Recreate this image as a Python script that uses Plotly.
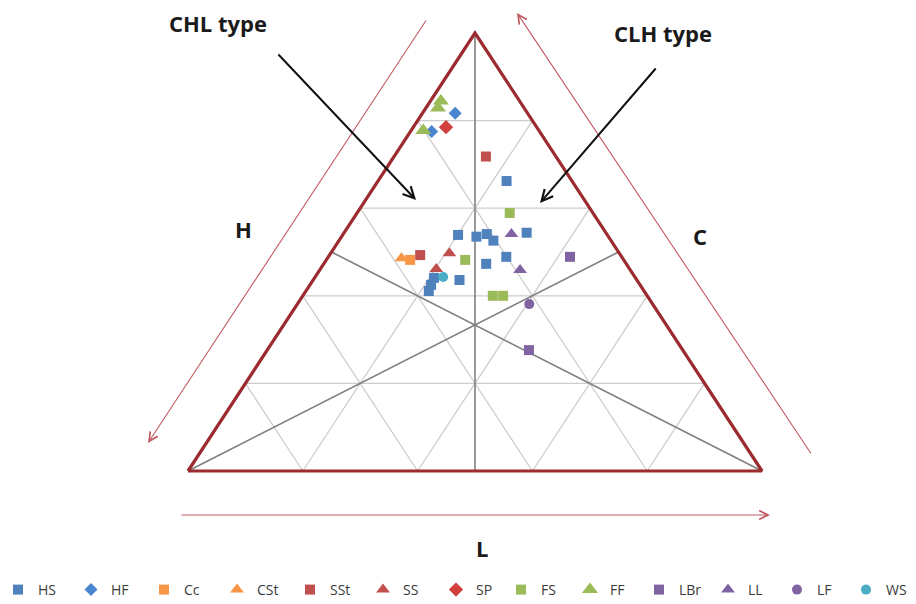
import plotly.graph_objects as go

# ---------------- DATA (ternary %, C = top, H = bottom-left, L = bottom-right) -------------
HS_C = [66.2, 53.9, 53.5, 54.1, 52.6, 54.4, 47.3, 48.9, 43.6, 44.1, 42.5, 41.1]
HS_H = [11.4, 26.0, 23.0, 20.9, 20.5, 13.8, 24.4, 20.1, 30.9, 35.1, 36.4, 37.5]
HS_L = [22.4, 20.1, 23.5, 25.0, 26.9, 31.8, 28.3, 31.0, 25.5, 20.8, 21.1, 21.4]

HF_C = [81.7, 77.5]
HF_H = [12.6, 18.8]
HF_L = [5.7, 3.7]

Cc_C = [48.2]
Cc_H = [37.2]
Cc_L = [14.6]

CSt_C = [48.6]
CSt_H = [38.5]
CSt_L = [12.9]

SSt_C = [71.8, 49.3]
SSt_H = [12.2, 34.9]
SSt_L = [16.0, 15.8]

SS_C = [49.7, 46.1]
SS_H = [29.6, 33.7]
SS_L = [20.7, 20.2]

SP_C = [78.5]
SP_H = [15.8]
SP_L = [5.7]

FS_C = [58.9, 48.2, 40.0, 40.0]
FS_H = [14.5, 27.6, 26.9, 25.1]
FS_L = [26.6, 24.2, 33.1, 34.9]

FF_C = [84.5, 82.9, 77.6]
FF_H = [13.7, 15.0, 20.1]
FF_L = [1.8, 2.1, 2.1]

LBr_C = [48.9, 27.6]
LBr_H = [9.0, 26.8]
LBr_L = [42.1, 45.6]

LL_C = [54.1, 45.9]
LL_H = [16.6, 19.2]
LL_L = [29.3, 34.9]

LF_C = [38.1]
LF_H = [21.5]
LF_L = [40.4]

WS_C = [44.3]
WS_H = [33.4]
WS_L = [22.3]

GRID_LEVELS = [20, 40, 60, 80]

# ---------------- helpers ----------------
SCREEN_W, SCREEN_H = 916, 604
BODY = 8                      # default page margin around the plot div
W, H = SCREEN_W - BODY, SCREEN_H - BODY
MB = 40                       # bottom margin (legend lives below the plot area)
PLOT_H = H - MB
LEFT_PX, RIGHT_PX, BASE_PX, TOP_PX = 188, 762, 471, 33   # triangle in screen pixels


def tern(c, h, l):
    """ternary composition -> cartesian (unit triangle: base 0..1, apex at y=1)"""
    s = c + h + l
    c, l = c / s, l / s
    return l + c / 2.0, c


def px(xp, yp):
    """screen pixel -> data coordinates (for decoration only)"""
    return ((xp - LEFT_PX) / (RIGHT_PX - LEFT_PX), (BASE_PX - yp) / (BASE_PX - TOP_PX))


fig = go.Figure()

# grid lines
gx, gy = [], []
for f in GRID_LEVELS:
    g = 100 - f
    for a, b in [((f, g, 0), (f, 0, g)),      # C constant
                 ((g, f, 0), (0, f, g)),      # H constant
                 ((0, g, f), (g, 0, f))]:     # L constant
        x0, y0 = tern(*a)
        x1, y1 = tern(*b)
        gx += [x0, x1, None]
        gy += [y0, y1, None]
fig.add_trace(go.Scatter(x=gx, y=gy, mode="lines", line=dict(color="#cdcdcd", width=1.3),
                         hoverinfo="skip", showlegend=False, cliponaxis=False))

# medians
mx, my = [], []
for a, b in [((100, 0, 0), (0, 50, 50)), ((0, 100, 0), (50, 0, 50)), ((0, 0, 100), (50, 50, 0))]:
    x0, y0 = tern(*a)
    x1, y1 = tern(*b)
    mx += [x0, x1, None]
    my += [y0, y1, None]
fig.add_trace(go.Scatter(x=mx, y=my, mode="lines", line=dict(color="#7f7f7f", width=1.6),
                         hoverinfo="skip", showlegend=False))

# triangle border
bx, by = zip(*[tern(*v) for v in [(0, 100, 0), (100, 0, 0), (0, 0, 100), (0, 100, 0)]])
fig.add_trace(go.Scatter(x=bx, y=by, mode="lines", line=dict(color="#9c2b2f", width=3.2),
                         hoverinfo="skip", showlegend=False))

series = [
    ("HS", HS_C, HS_H, HS_L, "square", "#4f81bd", 10, "legend"),
    ("HF", HF_C, HF_H, HF_L, "diamond", "#4a86d0", 10, "legend"),
    ("Cc", Cc_C, Cc_H, Cc_L, "square", "#f79646", 10, "legend"),
    ("CSt", CSt_C, CSt_H, CSt_L, "triangle-up", "#f79646", 12, "legend"),
    ("SSt", SSt_C, SSt_H, SSt_L, "square", "#c0504d", 10, "legend"),
    ("SS", SS_C, SS_H, SS_L, "triangle-up", "#c0504d", 12, "legend"),
    ("SP", SP_C, SP_H, SP_L, "diamond", "#d0413e", 11, "legend"),
    ("FS", FS_C, FS_H, FS_L, "square", "#9bbb59", 10, "legend2"),
    ("FF", FF_C, FF_H, FF_L, "triangle-up", "#9bbb59", 14, "legend2"),
    ("LBr", LBr_C, LBr_H, LBr_L, "square", "#8064a2", 10, "legend2"),
    ("LL", LL_C, LL_H, LL_L, "triangle-up", "#8064a2", 12, "legend2"),
    ("LF", LF_C, LF_H, LF_L, "circle", "#8064a2", 10, "legend2"),
    ("WS", WS_C, WS_H, WS_L, "circle", "#4bacc6", 10, "legend2"),
]
for name, C, Hh, L, sym, col, size, lg in series:
    pts = [tern(c, h, l) for c, h, l in zip(C, Hh, L)]
    fig.add_trace(go.Scatter(
        x=[p[0] for p in pts], y=[p[1] for p in pts], mode="markers", name=name, legend=lg,
        marker=dict(symbol=sym, color=col, size=size, line=dict(width=0)),
    ))

# ---------------- decorations ----------------
ann = []
red = "#c25a64"
for tail, head in [((427, 19), (148, 443)), ((812, 455), (517, 13)), ((180, 515), (770, 515))]:
    hx, hy = px(*head)
    tx, ty = px(*tail)
    ann.append(dict(x=hx, y=hy, ax=tx, ay=ty, xref="x", yref="y", axref="x", ayref="y",
                    text="", showarrow=True, arrowhead=5, arrowsize=1.6, arrowwidth=1.1,
                    arrowcolor=red))
for tail, head in [((277, 53), (416, 200)), ((657, 67), (540, 203))]:
    hx, hy = px(*head)
    tx, ty = px(*tail)
    ann.append(dict(x=hx, y=hy, ax=tx, ay=ty, xref="x", yref="y", axref="x", ayref="y",
                    text="", showarrow=True, arrowhead=5, arrowsize=1.1, arrowwidth=2,
                    arrowcolor="#111111"))

font_b = "Open Sans"
for txt, (xp, yp), size in [("<b>CHL type</b>", (218, 23), 22), ("<b>CLH type</b>", (663, 33), 22),
                            ("<b>H</b>", (243, 229), 22), ("<b>C</b>", (700, 236), 22),
                            ("<b>L</b>", (482, 548), 22)]:
    x, y = px(xp, yp)
    ann.append(dict(x=x, y=y, xref="x", yref="y", text=txt, showarrow=False,
                    font=dict(family=font_b, size=size, color="#1a1a1a")))

x0, _ = px(BODY, 0)
x1, _ = px(SCREEN_W, 0)
_, y0 = px(0, SCREEN_H - MB)
_, y1 = px(0, BODY)

leg_y = -((590 - BODY) - PLOT_H) / PLOT_H
leg_common = dict(orientation="h", yanchor="middle", y=leg_y,
                  entrywidthmode="pixels", itemwidth=30,
                  font=dict(family="Open Sans", size=14, color="#3a3a3a"),
                  bgcolor="rgba(0,0,0,0)", tracegroupgap=0)

fig.update_layout(
    width=W, height=H, margin=dict(l=0, r=0, t=0, b=MB, autoexpand=False),
    paper_bgcolor="white", plot_bgcolor="white",
    xaxis=dict(range=[x0, x1], visible=False, fixedrange=True),
    yaxis=dict(range=[y0, y1], visible=False, fixedrange=True),
    annotations=ann,
    showlegend=True,
    legend=dict(x=(18 - BODY - 20) / W, xanchor="left", entrywidth=28, **leg_common),
    legend2=dict(x=(521 - BODY - 20) / W, xanchor="left", entrywidth=24, **leg_common),
)

fig.write_html("out.html")
